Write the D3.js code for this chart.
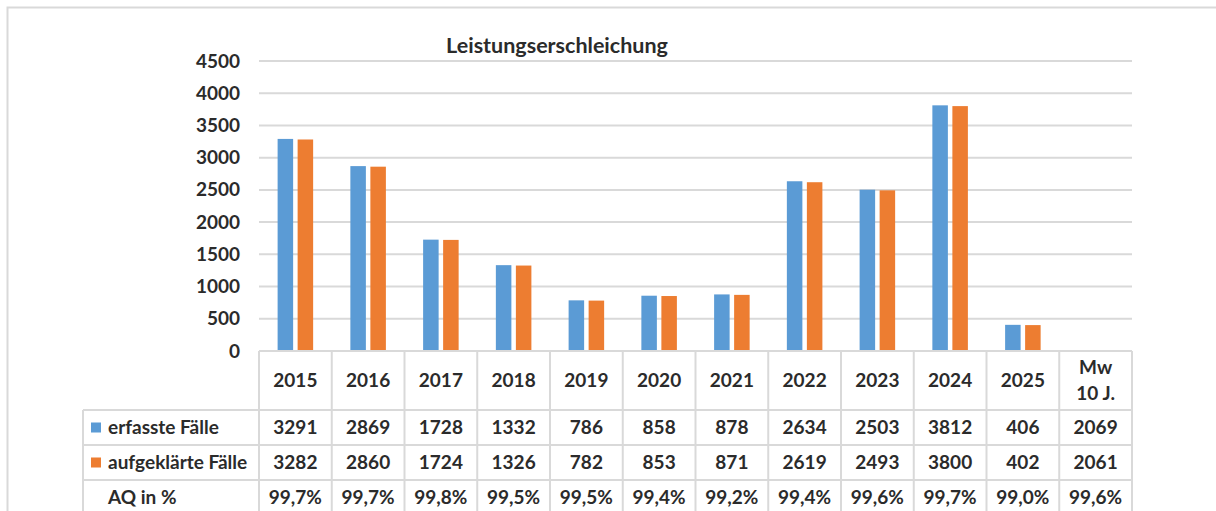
<!DOCTYPE html>
<html>
<head>
<meta charset="utf-8">
<script src="https://cdn.jsdelivr.net/npm/d3@7"></script>
<style>
  body { margin: 0; background: #fff; }
  svg text { font-family: Lato, "Open Sans", sans-serif; font-weight: bold; fill: #2b2b2b; }
</style>
</head>
<body>
<div id="chart"></div>
<script>
const years = ['2015', '2016', '2017', '2018', '2019', '2020', '2021', '2022', '2023', '2024', '2025', 'Mw'];
const headerLabels = [['2015'], ['2016'], ['2017'], ['2018'], ['2019'], ['2020'], ['2021'], ['2022'], ['2023'], ['2024'], ['2025'], ['Mw', '10 J.']];
const erfasst = [3291, 2869, 1728, 1332, 786, 858, 878, 2634, 2503, 3812, 406, 2069];
const aufgeklaert = [3282, 2860, 1724, 1326, 782, 853, 871, 2619, 2493, 3800, 402, 2061];
const aq = ['99,7%', '99,7%', '99,8%', '99,5%', '99,5%', '99,4%', '99,2%', '99,4%', '99,6%', '99,7%', '99,0%', '99,6%'];
const yTicks = [0, 500, 1000, 1500, 2000, 2500, 3000, 3500, 4000, 4500];
const seriesNames = ['erfasste Fälle', 'aufgeklärte Fälle'];
const seriesColors = ['#5b9bd5', '#ed7d31'];
const barYears = years.slice(0, 11); // Mw column has no bars

const width = 1216;
const height = 511;
const grid = '#d9d9d9';

const svg = d3.select('#chart')
  .append('svg')
  .attr('width', width)
  .attr('height', height);

// outer frame
svg.append('path')
  .attr('d', `M7.5,${height} V7.5 H${width}`)
  .attr('fill', 'none')
  .attr('stroke', grid)
  .attr('stroke-width', 2);

const x = d3.scaleBand()
  .domain(years)
  .range([259, 1132]);

const xs = d3.scaleBand()
  .domain([0, 1])
  .range([0, x.bandwidth()])
  .paddingInner(0.225)
  .paddingOuter(0.93);

const y = d3.scaleLinear()
  .domain([0, 4500])
  .range([351, 61]);

// title
svg.append('text')
  .attr('x', 557)
  .attr('y', 53)
  .attr('text-anchor', 'middle')
  .style('font-size', '21.5px')
  .text('Leistungserschleichung');

// gridlines
svg.append('g')
  .selectAll('line')
  .data(yTicks.filter(d => d > 0))
  .enter()
  .append('line')
  .attr('x1', x.range()[0])
  .attr('x2', x.range()[1])
  .attr('y1', d => y(d))
  .attr('y2', d => y(d))
  .attr('stroke', grid)
  .attr('stroke-width', 2);

const fs = '19px';

// y axis labels
const yAxis = svg.append('g')
  .attr('transform', 'translate(240,0)')
  .call(d3.axisLeft(y).tickValues(yTicks).tickSize(0).tickPadding(0).tickFormat(d3.format('d')));
yAxis.select('.domain').remove();
yAxis.selectAll('text')
  .style('font-size', fs)
  .style('font-family', 'Lato, sans-serif')
  .attr('fill', '#2b2b2b');

// bars
const series = [erfasst, aufgeklaert];
series.forEach((vals, si) => {
  svg.append('g')
    .selectAll('rect')
    .data(barYears)
    .enter()
    .append('rect')
    .attr('x', d => x(d) + xs(si))
    .attr('y', (d, i) => y(vals[i]))
    .attr('width', xs.bandwidth())
    .attr('height', (d, i) => y(0) - y(vals[i]))
    .attr('fill', seriesColors[si]);
});

// data table
const rowTop = [351, 410, 445, 480];
const rowBottom = [410, 445, 480, 515];
const labelLeft = 83;
const t = svg.append('g');

// horizontal borders
t.append('line').attr('x1', x.range()[0]).attr('x2', x.range()[1]).attr('y1', rowTop[0]).attr('y2', rowTop[0]);
rowTop.slice(1).forEach(ry => {
  t.append('line').attr('x1', labelLeft).attr('x2', x.range()[1]).attr('y1', ry).attr('y2', ry);
});
// vertical borders
t.append('line').attr('x1', labelLeft).attr('x2', labelLeft).attr('y1', rowTop[1]).attr('y2', height);
years.forEach(d => {
  t.append('line').attr('x1', x(d)).attr('x2', x(d)).attr('y1', rowTop[0]).attr('y2', height);
});
t.append('line').attr('x1', x.range()[1]).attr('x2', x.range()[1]).attr('y1', rowTop[0]).attr('y2', height);
t.selectAll('line').attr('stroke', grid).attr('stroke-width', 2);

const mid = i => (rowTop[i] + rowBottom[i]) / 2;

// header row
years.forEach((d, i) => {
  const lines = headerLabels[i];
  const lh = 26;
  lines.forEach((l, j) => {
    t.append('text')
      .attr('x', x(d) + x.bandwidth() / 2)
      .attr('y', mid(0) + (j - (lines.length - 1) / 2) * lh)
      .attr('dy', '0.35em')
      .attr('text-anchor', 'middle')
      .style('font-size', fs)
      .text(l);
  });
});

// series rows with legend keys
const rows = [erfasst.map(String), aufgeklaert.map(String), aq];
const rowLabels = [seriesNames[0], seriesNames[1], 'AQ in %'];
rows.forEach((vals, r) => {
  const cy = mid(r + 1);
  if (r < 2) {
    t.append('rect')
      .attr('x', 91)
      .attr('y', cy - 5)
      .attr('width', 10)
      .attr('height', 10)
      .attr('fill', seriesColors[r]);
  }
  t.append('text')
    .attr('x', 108)
    .attr('y', cy)
    .attr('dy', '0.35em')
    .style('font-size', fs)
    .text(rowLabels[r]);
  t.selectAll(null)
    .data(years)
    .enter()
    .append('text')
    .attr('x', d => x(d) + x.bandwidth() / 2)
    .attr('y', cy)
    .attr('dy', '0.35em')
    .attr('text-anchor', 'middle')
    .style('font-size', fs)
    .text((d, i) => vals[i]);
});
</script>
</body>
</html>
